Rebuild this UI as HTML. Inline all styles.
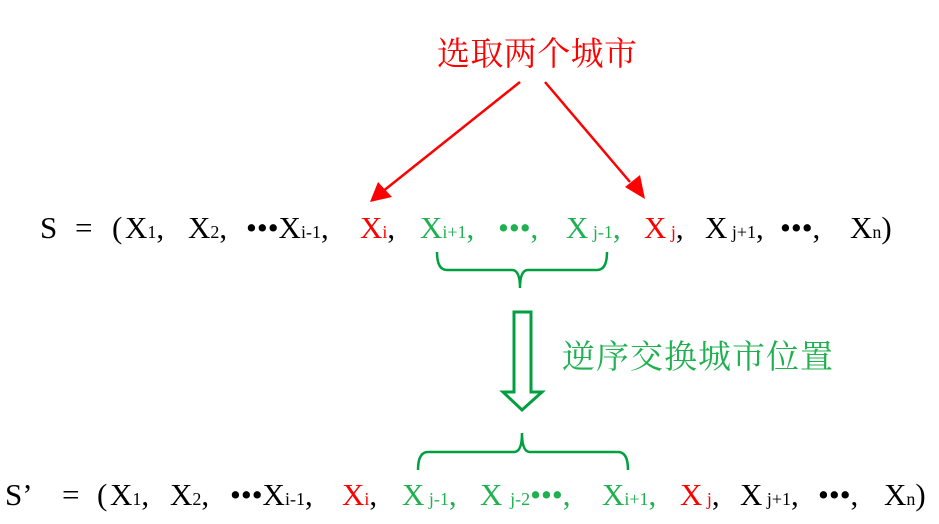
<!DOCTYPE html>
<html><head><meta charset="utf-8"><style>
html,body{margin:0;padding:0;background:#fff;}
svg{display:block}
text{font-family:"Liberation Serif","Noto Serif CJK SC",serif;font-size:31px}
.s{font-size:18px}
.cn{font-family:"Liberation Serif","Noto Serif CJK SC",serif;font-size:33px}
.r{fill:#ff0000}.g{fill:#1fb050}
</style></head><body>
<svg width="939" height="524" viewBox="0 0 939 524">
<text x="437" y="65" class="cn r" textLength="200">选取两个城市</text>
<line x1="520" y1="82" x2="382" y2="192" stroke="#ff0000" stroke-width="2.5"/>
<polygon points="370,202 378,182 392,197" fill="#ff0000"/>
<line x1="545" y1="82" x2="630" y2="182" stroke="#ff0000" stroke-width="2.5"/>
<polygon points="645,199 625,187 640,175" fill="#ff0000"/>

<g transform="translate(0,238)">
<text x="40" y="0">S</text>
<text x="75" y="0">=</text>
<text x="112" y="0">(</text>
<text x="125" y="0">X<tspan class="s">1</tspan>,</text>
<text x="188" y="0">X<tspan class="s">2</tspan>,</text>
<text x="246" y="0">•••X<tspan class="s">i-1</tspan>,</text>
<text x="360" y="0" class="r">X<tspan class="s">i</tspan><tspan fill="#000">,</tspan></text>
<text x="420" y="0" class="g">X<tspan class="s">i+1</tspan>,</text>
<text x="498" y="0" class="g">•••,</text>
<text x="566" y="0" class="g">X<tspan class="s"> j-1</tspan>,</text>
<text x="644" y="0" class="r">X<tspan class="s"> j</tspan><tspan fill="#000">,</tspan></text>
<text x="705" y="0">X<tspan class="s"> j+1</tspan>,</text>
<text x="780" y="0">•••,</text>
<text x="850" y="0">X<tspan class="s">n</tspan>)</text>
</g>

<path d="M437,252 Q437,270 447,270 L512,270 Q520,270 520,288 Q520,270 528,270 L597,270 Q607,270 607,252" fill="none" stroke="#00a040" stroke-width="2.5"/>

<polygon points="514,312 531,312 531,392 542,392 522,410 503,392 514,392" fill="none" stroke="#00a040" stroke-width="3"/>
<text x="562" y="368" class="cn g" textLength="271">逆序交换城市位置</text>

<path d="M418,470 Q418,452 428,452 L514,452 Q522,452 522,433 Q522,452 530,452 L618,452 Q628,452 628,470" fill="none" stroke="#00a040" stroke-width="2.5"/>

<g transform="translate(0,505)">
<text x="5" y="0">S’</text>
<text x="62" y="0">=</text>
<text x="97" y="0">(</text>
<text x="110" y="0">X<tspan class="s">1</tspan>,</text>
<text x="170" y="0">X<tspan class="s">2</tspan>,</text>
<text x="230" y="0">•••X<tspan class="s">i-1</tspan>,</text>
<text x="342" y="0" class="r">X<tspan class="s">i</tspan><tspan fill="#000">,</tspan></text>
<text x="402" y="0" class="g">X<tspan class="s"> j-1</tspan>,</text>
<text x="480" y="0" class="g">X <tspan class="s">j-2</tspan>•••,</text>
<text x="602" y="0" class="g">X<tspan class="s">i+1</tspan>,</text>
<text x="680" y="0" class="r">X<tspan class="s"> j</tspan><tspan fill="#000">,</tspan></text>
<text x="740" y="0">X<tspan class="s"> j+1</tspan>,</text>
<text x="818" y="0">•••,</text>
<text x="884" y="0">X<tspan class="s">n</tspan>)</text>
</g>
</svg>
</body></html>
